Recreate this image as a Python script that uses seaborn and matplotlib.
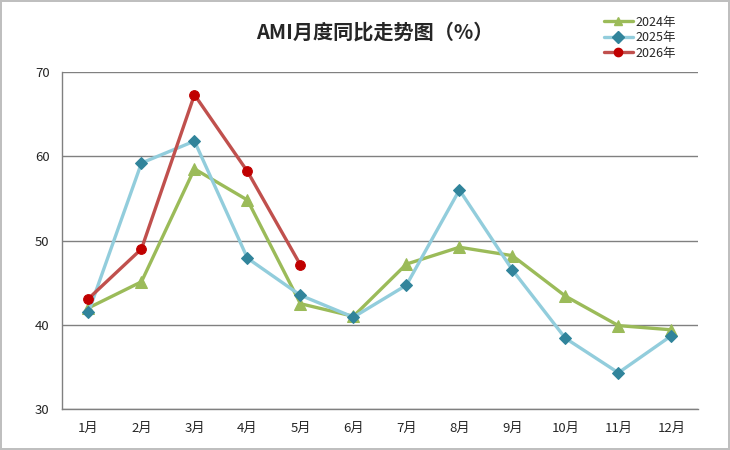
import matplotlib
matplotlib.use('Agg')
import matplotlib.pyplot as plt
from matplotlib.lines import Line2D
import seaborn as sns
import pandas as pd

months = ['1月', '2月', '3月', '4月', '5月', '6月', '7月', '8月', '9月', '10月', '11月', '12月']
y2024 = [42.0, 45.1, 58.5, 54.8, 42.5, 41.0, 47.2, 49.2, 48.2, 43.4, 39.9, 39.4]
y2025 = [41.5, 59.2, 61.8, 47.9, 43.5, 40.9, 44.7, 56.0, 46.5, 38.4, 34.3, 38.7]
y2026 = [43.1, 49.0, 67.3, 58.2, 47.1]

sns.set_theme(style='white')
plt.rcParams['font.family'] = ['Noto Sans CJK SC', 'DejaVu Sans']

fig = plt.figure(figsize=(7.3, 4.5), dpi=100)
fig.patch.set_edgecolor('#BFBFBF')
fig.patch.set_linewidth(1.5)
ax = fig.add_axes([0.0849, 0.0911, 0.8711, 0.7489])

series = [
    ('2024年', y2024, '#9BBB59', '#9BBB59', '^', 8),
    ('2025年', y2025, '#92CDDC', '#31849B', 'D', 6),
    ('2026年', y2026, '#C0504D', '#C00000', 'o', 7),
]
handles = []
for name, vals, lc, mc, mk, ms in series:
    df = pd.DataFrame({'x': range(len(vals)), 'y': vals})
    sns.lineplot(data=df, x='x', y='y', ax=ax, color=lc, linewidth=2.4,
                 marker=mk, markersize=ms, markerfacecolor=mc,
                 markeredgecolor=mc)
    handles.append(Line2D([], [], color=lc, linewidth=2.4, marker=mk,
                          markersize=6, markerfacecolor=mc,
                          markeredgecolor=mc, label=name))

ax.set_xlim(-0.5, 11.5)
ax.set_ylim(30, 70)
ax.set_yticks([30, 40, 50, 60, 70])
ax.set_xticks(range(12))
ax.set_xticklabels(months)
ax.tick_params(axis='both', labelsize=9.5, length=0, pad=9)
ax.set_xlabel('')
ax.set_ylabel('')
ax.yaxis.grid(True, color='#808080', linewidth=1)
ax.set_axisbelow(True)
for s in ['top', 'right']:
    ax.spines[s].set_visible(False)
for s in ['left', 'bottom']:
    ax.spines[s].set_color('#808080')
    ax.spines[s].set_linewidth(1)

fig.legend(handles=handles, loc='upper left', bbox_to_anchor=(0.812, 0.99),
           frameon=False, fontsize=9, handlelength=2.3, labelspacing=0.2,
           handletextpad=0.25)

fig.text(0.514, 0.929, 'AMI月度同比走势图（%）', ha='center', va='center',
         fontsize=14.5, fontweight='bold')

fig.savefig('out.png', dpi=100)
